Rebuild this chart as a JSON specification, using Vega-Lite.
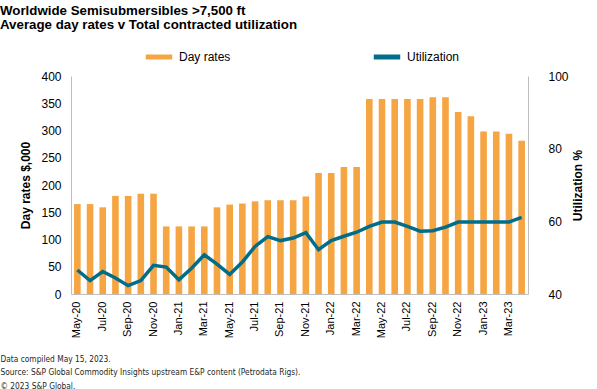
{
  "$schema": "https://vega.github.io/schema/vega-lite/v6.json",
  "width": 457,
  "height": 218,
  "autosize": "none",
  "padding": {"left": 71, "top": 76, "right": 69, "bottom": 95},
  "background": "white",
  "config": {
    "view": {"stroke": null},
    "font": "Liberation Sans",
    "axis": {"grid": false, "domainColor": "#BFBFBF", "ticks": false, "labelColor": "#000000", "titleColor": "#000000"}
  },
  "title": {
    "text": ["Worldwide Semisubmersibles >7,500 ft", "Average day rates v Total contracted utilization"],
    "anchor": "start",
    "frame": "group",
    "dx": -71,
    "offset": 10,
    "fontSize": 13.3,
    "fontWeight": "bold",
    "lineHeight": 14,
    "color": "#000000",
    "font": "Liberation Sans"
  },
  "data": {
    "values": [
      {"month": "May-20", "rate": 165, "util": 46.6},
      {"month": "Jun-20", "rate": 165, "util": 43.7},
      {"month": "Jul-20", "rate": 159, "util": 46.2},
      {"month": "Aug-20", "rate": 180, "util": 44.4},
      {"month": "Sep-20", "rate": 180, "util": 42.3},
      {"month": "Oct-20", "rate": 184, "util": 43.7},
      {"month": "Nov-20", "rate": 184, "util": 47.9},
      {"month": "Dec-20", "rate": 124, "util": 47.4},
      {"month": "Jan-21", "rate": 124, "util": 43.9},
      {"month": "Feb-21", "rate": 124, "util": 47.1},
      {"month": "Mar-21", "rate": 124, "util": 50.8},
      {"month": "Apr-21", "rate": 159, "util": 48.2},
      {"month": "May-21", "rate": 164, "util": 45.4},
      {"month": "Jun-21", "rate": 166, "util": 48.8},
      {"month": "Jul-21", "rate": 170, "util": 53.1},
      {"month": "Aug-21", "rate": 172, "util": 55.8},
      {"month": "Sep-21", "rate": 172, "util": 54.7},
      {"month": "Oct-21", "rate": 172, "util": 55.4},
      {"month": "Nov-21", "rate": 179, "util": 56.9},
      {"month": "Dec-21", "rate": 222, "util": 52.2},
      {"month": "Jan-22", "rate": 222, "util": 54.7},
      {"month": "Feb-22", "rate": 233, "util": 55.9},
      {"month": "Mar-22", "rate": 233, "util": 57.0},
      {"month": "Apr-22", "rate": 358, "util": 58.6},
      {"month": "May-22", "rate": 358, "util": 59.8},
      {"month": "Jun-22", "rate": 358, "util": 59.8},
      {"month": "Jul-22", "rate": 358, "util": 58.6},
      {"month": "Aug-22", "rate": 358, "util": 57.3},
      {"month": "Sep-22", "rate": 361, "util": 57.4},
      {"month": "Oct-22", "rate": 361, "util": 58.4},
      {"month": "Nov-22", "rate": 334, "util": 59.8},
      {"month": "Dec-22", "rate": 326, "util": 59.8},
      {"month": "Jan-23", "rate": 298, "util": 59.8},
      {"month": "Feb-23", "rate": 298, "util": 59.8},
      {"month": "Mar-23", "rate": 294, "util": 59.8},
      {"month": "Apr-23", "rate": 281, "util": 61.1}
    ]
  },
  "encoding": {
    "x": {
      "field": "month",
      "type": "ordinal",
      "sort": null,
      "scale": {"paddingInner": 0.48, "paddingOuter": 0.24},
      "axis": {
        "values": ["May-20", "Jul-20", "Sep-20", "Nov-20", "Jan-21", "Mar-21", "May-21", "Jul-21", "Sep-21", "Nov-21", "Jan-22", "Mar-22", "May-22", "Jul-22", "Sep-22", "Nov-22", "Jan-23", "Mar-23"],
        "labelAngle": -90,
        "labelFontSize": 11,
        "labelPadding": 7,
        "title": ["Data compiled May  15, 2023.", "Source: S&P Global Commodity Insights upstream E&P content (Petrodata Rigs).", "© 2023 S&P Global."],
        "titleFont": "DejaVu Sans Condensed, Liberation Sans",
        "titleFontSize": 8.3,
        "titleFontWeight": "normal",
        "titleAlign": "left",
        "titleAngle": 0,
        "titleBaseline": "top",
        "titleX": -71,
        "titleY": 60,
        "titleLineHeight": 13.5,
        "titleColor": "#262626"
      }
    }
  },
  "layer": [
    {
      "mark": {"type": "bar"},
      "encoding": {
        "y": {
          "field": "rate",
          "type": "quantitative",
          "scale": {"domain": [0, 400]},
          "axis": {
            "values": [0, 50, 100, 150, 200, 250, 300, 350, 400],
            "labelFontSize": 12,
            "labelPadding": 10,
            "title": "Day rates $,000",
            "titleFontSize": 12,
            "titleFontWeight": "bold",
            "titlePadding": 8
          }
        },
        "color": {
          "datum": "Day rates",
          "type": "nominal",
          "scale": {"domain": ["Day rates", "Utilization"], "range": ["#F5A542", "#006D8A"]},
          "legend": {
            "orient": "none",
            "legendX": 72,
            "legendY": -35,
            "direction": "horizontal",
            "title": null,
            "symbolType": "stroke",
            "symbolStrokeWidth": 5,
            "symbolSize": 700,
            "labelFontSize": 12,
            "labelColor": "#000000",
            "labelOffset": 4,
            "columnPadding": 132
          }
        }
      }
    },
    {
      "mark": {"type": "line", "strokeWidth": 3.5},
      "encoding": {
        "y": {
          "field": "util",
          "type": "quantitative",
          "scale": {"domain": [40, 100]},
          "axis": {
            "orient": "right",
            "values": [40, 60, 80, 100],
            "labelFontSize": 12,
            "labelPadding": 20,
            "title": "Utilization %",
            "titleAngle": 270,
            "titleFontSize": 12,
            "titleFontWeight": "bold",
            "titlePadding": 16
          }
        },
        "color": {"datum": "Utilization", "type": "nominal"}
      }
    }
  ],
  "resolve": {"scale": {"y": "independent"}}
}
